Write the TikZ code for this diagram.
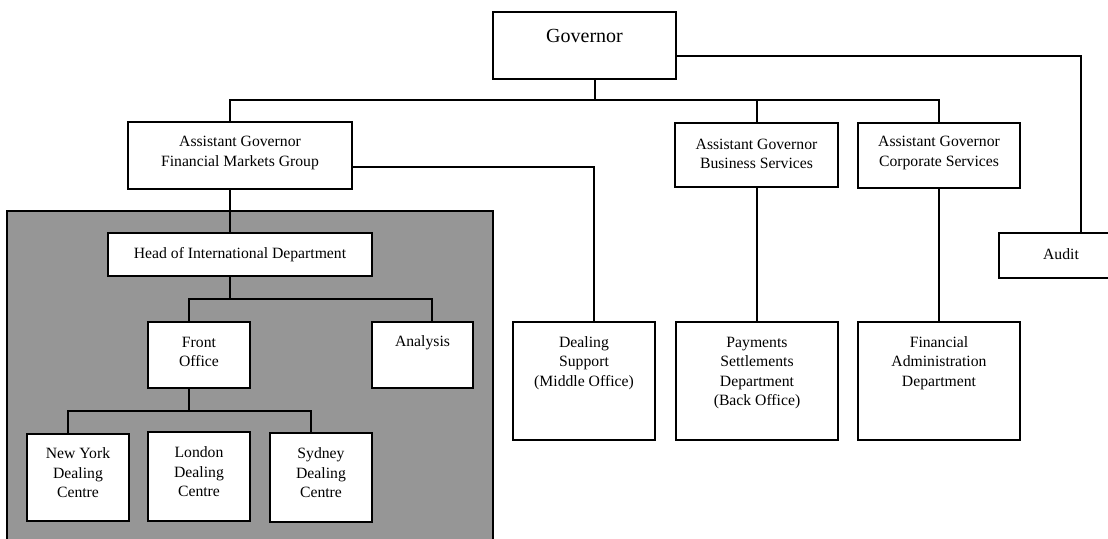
\documentclass[tikz,border=0pt]{standalone}
\usepackage{fontspec}
\setmainfont{Liberation Serif}
\begin{document}
\begin{tikzpicture}[x=1pt,y=-1pt,
  box/.style={draw=black,fill=white,line width=1.4pt,inner sep=0pt,outer sep=0pt,anchor=north west},
  txt/.style={inner sep=0pt,align=center,font=\fontsize{15.7pt}{19.5pt}\selectfont},
  bigtxt/.style={inner sep=0pt,align=center,font=\fontsize{20pt}{24pt}\selectfont},
  conn/.style={draw=black,line width=1.4pt,line cap=rect}]
\useasboundingbox (0,0) rectangle (1108,538);
\clip (0,0) rectangle (1108,538);
\fill[white] (0,0) rectangle (1108,538);
% shaded international department area
\draw[fill={rgb,255:red,150;green,150;blue,150},line width=1.4pt] (7,211) rectangle (493,548);
% boxes
\node[box,minimum width=183pt,minimum height=67pt] (gov) at (493,12) {};
\node[box,minimum width=224pt,minimum height=67pt] (fmg) at (128,122) {};
\node[box,minimum width=163pt,minimum height=64pt] (bs) at (675,123) {};
\node[box,minimum width=162pt,minimum height=65pt] (cs) at (858,123) {};
\node[box,minimum width=124pt,minimum height=45pt] (audit) at (999,233) {};
\node[box,minimum width=264pt,minimum height=43pt] (head) at (108,233) {};
\node[box,minimum width=102pt,minimum height=66pt] (fo) at (148,322) {};
\node[box,minimum width=101pt,minimum height=66pt] (an) at (372,322) {};
\node[box,minimum width=102pt,minimum height=87pt] (ny) at (27,434) {};
\node[box,minimum width=102pt,minimum height=89pt] (lon) at (148,432) {};
\node[box,minimum width=102pt,minimum height=89pt] (syd) at (270,433) {};
\node[box,minimum width=142pt,minimum height=118pt] (ds) at (513,322) {};
\node[box,minimum width=162pt,minimum height=118pt] (pay) at (676,322) {};
\node[box,minimum width=162pt,minimum height=118pt] (fa) at (858,322) {};
% texts
\node[bigtxt] (govt) at (584.5,36) {Governor};
\node[txt] (fmgt) at (240,153) {Assistant Governor\\Financial Markets Group};
\node[txt] (bst) at (756.5,154) {Assistant Governor\\Business Services};
\node[txt] (cst) at (939,153) {Assistant Governor\\Corporate Services};
\node[txt] (auditt) at (1061,254) {Audit};
\node[txt] (headt) at (240,255) {Head of International Department};
\node[txt] (fot) at (199,352) {Front\\Office};
\node[txt] (ant) at (422.5,343) {Analysis};
\node[txt] (nyt) at (78,473) {New York\\Dealing\\Centre};
\node[txt] (lont) at (199,472) {London\\Dealing\\Centre};
\node[txt] (sydt) at (321,473) {Sydney\\Dealing\\Centre};
\node[txt] (dst) at (584,363) {Dealing\\Support\\(Middle Office)};
\node[txt] (payt) at (757,373) {Payments\\Settlements\\Department\\(Back Office)};
\node[txt] (fat) at (939,363) {Financial\\Administration\\Department};
% junction coordinates
\coordinate (j1) at (595,100);
\coordinate (busL) at (230,100);
\coordinate (busM) at (757,100);
\coordinate (busR) at (939,100);
\coordinate (aud) at (1081,56);
\coordinate (dsj) at (594,167);
\coordinate (h1) at (230,299);
\coordinate (h1L) at (189,299);
\coordinate (h1R) at (432,299);
\coordinate (f1) at (189,411);
\coordinate (f1L) at (68,411);
\coordinate (f1R) at (311,411);
% connectors
\draw[conn] (gov.south -| j1) -- (j1);
\draw[conn] (fmg.north -| busL) -- (busL) -- (busR) -- (cs.north -| busR);
\draw[conn] (busM) -- (bs.north -| busM);
\draw[conn] (gov.east |- aud) -- (aud) -- (audit.north -| aud);
\draw[conn] (fmg.south -| busL) -- (head.north -| busL);
\draw[conn] (fmg.east |- dsj) -- (dsj) -- (ds.north -| dsj);
\draw[conn] (bs.south -| busM) -- (pay.north -| busM);
\draw[conn] (cs.south -| busR) -- (fa.north -| busR);
\draw[conn] (head.south -| h1) -- (h1);
\draw[conn] (fo.north -| h1L) -- (h1L) -- (h1R) -- (an.north -| h1R);
\draw[conn] (fo.south -| f1) -- (f1);
\draw[conn] (ny.north -| f1L) -- (f1L) -- (f1R) -- (syd.north -| f1R);
\end{tikzpicture}
\end{document}
